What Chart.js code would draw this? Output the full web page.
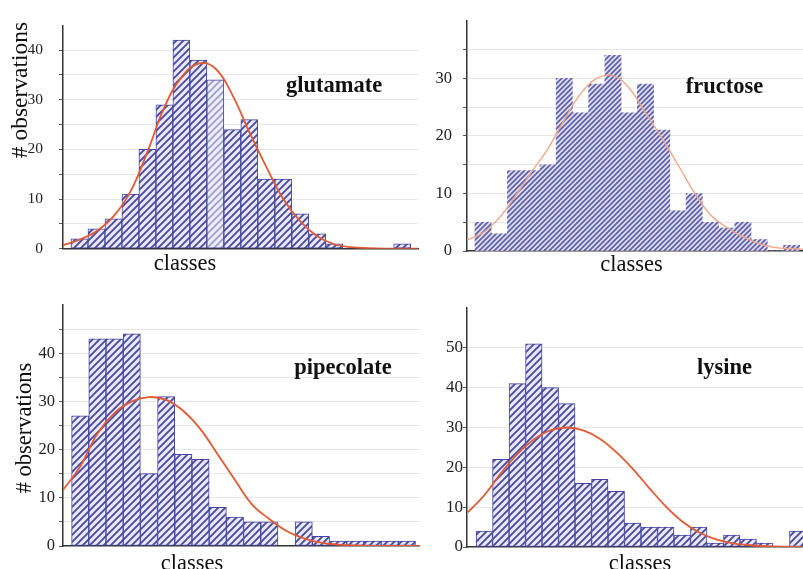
<!DOCTYPE html>
<html>
<head>
<meta charset="utf-8">
<script src="https://cdn.jsdelivr.net/npm/chart.js@4.4.1/dist/chart.umd.min.js"></script>
<style>
  html, body { margin: 0; padding: 0; background: #fff; }
  #wrap { position: relative; width: 803px; height: 569px; overflow: hidden; }
  .panel { position: absolute; }
</style>
</head>
<body>
<div id="wrap">
  <div class="panel" style="left:0;top:0;width:420px;height:274px"><canvas id="glu"></canvas></div>
  <div class="panel" style="left:425px;top:0;width:378px;height:274px"><canvas id="fru"></canvas></div>
  <div class="panel" style="left:0;top:285px;width:420px;height:284px"><canvas id="pip"></canvas></div>
  <div class="panel" style="left:425px;top:285px;width:378px;height:284px"><canvas id="lys"></canvas></div>
</div>
<script>
// Histograms of 4 metabolites, 20 classes each, with fitted normal curve

// class (bin) centres, bins span [i, i+1]
const classMid = [0.5, 1.5, 2.5, 3.5, 4.5, 5.5, 6.5, 7.5, 8.5, 9.5,
                  10.5, 11.5, 12.5, 13.5, 14.5, 15.5, 16.5, 17.5, 18.5, 19.5];
const fitX = [-0.5, 0.5, 1.5, 2.5, 3.5, 4.5, 5.5, 6.5, 7.5, 8.5, 9.5,
              10.5, 11.5, 12.5, 13.5, 14.5, 15.5, 16.5, 17.5, 18.5, 19.5, 20.5];

const gluCounts = [2, 4, 6, 11, 20, 29, 42, 38, 34, 24, 26, 14, 14, 7, 3, 1, 0, 0, 0, 1];
const fruCounts = [5, 3, 14, 14, 15, 30, 24, 29, 34, 24, 29, 21, 7, 10, 5, 4, 5, 2, 0, 1];
const pipCounts = [27, 43, 43, 44, 15, 31, 19, 18, 8, 6, 5, 5, 0, 5, 2, 1, 1, 1, 1, 1];
const lysCounts = [4, 22, 41, 51, 40, 36, 16, 17, 14, 6, 5, 5, 3, 5, 1, 3, 2, 1, 0, 4];

const gluFit = [0.7, 1.8, 3.5, 6.5, 11.5, 19.5, 28.5, 34.5, 37.3, 36.3, 31,
                23.5, 16.5, 10, 5.5, 2.5, 0.9, 0.3, 0.1, 0, 0, 0];
const fruFit = [1.9, 3.2, 5.8, 9.6, 13.8, 17.8, 22.8, 27.3, 30, 30.5, 28.3,
                24, 19.7, 15, 10.2, 6.3, 4.1, 2.5, 1.3, 0.6, 0.4, 0.3];
const pipFit = [11.6, 16.5, 23.3, 27.6, 30, 30.9, 30.3, 28, 24.2, 19, 13.7,
                8.6, 5.6, 3.1, 1.6, 0.7, 0.3, 0.1, 0, 0, 0, 0];
const lysFit = [8.7, 13, 18.5, 23.3, 27, 29.3, 30, 29.3, 27.2, 23.8, 19.6,
                14.8, 10.2, 6.4, 3.7, 2, 1, 0.5, 0.2, 0.1, 0, 0];

const xTitle = 'classes';
const yTitle = '# observations';
const serif = '"Liberation Serif", "Times New Roman", serif';

// diagonal hatch tile
function hatch(size, lw, stripe, bg) {
  const c = document.createElement('canvas');
  c.width = size; c.height = size;
  const g = c.getContext('2d');
  g.fillStyle = bg;
  g.fillRect(0, 0, size, size);
  g.strokeStyle = stripe;
  g.lineWidth = lw;
  g.beginPath();
  g.moveTo(0, size); g.lineTo(size, 0);
  g.moveTo(-size / 2, size / 2); g.lineTo(size / 2, -size / 2);
  g.moveTo(size / 2, size * 1.5); g.lineTo(size * 1.5, size / 2);
  g.stroke();
  return g.createPattern(c, 'repeat');
}

const panelText = {
  id: 'panelText',
  afterDraw(chart, args, o) {
    const ctx = chart.ctx;
    ctx.save();
    ctx.fillStyle = '#111';
    ctx.textAlign = 'center';
    ctx.textBaseline = 'alphabetic';
    ctx.font = 'bold 22.5px ' + serif;
    ctx.fillText(o.name, o.nameX, o.nameY);
    ctx.font = '22.5px ' + serif;
    ctx.fillText(xTitle, o.xtX, o.xtY);
    if (o.ytY) {
      // baseline on the right, text reads bottom to top
      ctx.translate(o.ytX, o.ytY);
      ctx.rotate(-Math.PI / 2);
      ctx.font = o.ytSize + 'px ' + serif;
      ctx.fillText(yTitle, 0, 0);
    }
    ctx.restore();
  }
};

function makeChart(id, p) {
  new Chart(document.getElementById(id), {
    type: 'bar',
    data: {
      datasets: [{
        type: 'line',
        data: p.fit.map((y, i) => ({ x: fitX[i], y: y })),
        borderColor: p.lineColor,
        borderWidth: p.lineWidth,
        pointRadius: 0,
        tension: 0.4,
        fill: false,
        order: 0
      }, {
        type: 'bar',
        data: p.counts.map((y, i) => ({ x: classMid[i], y: y })),
        backgroundColor: p.fill,
        borderColor: p.border,
        borderWidth: p.borderWidth,
        borderSkipped: false,
        barPercentage: 1,
        categoryPercentage: 1,
        order: 1
      }]
    },
    options: {
      responsive: true,
      maintainAspectRatio: false,
      animation: false,
      layout: { padding: { top: p.padTop, right: p.padRight, left: 0, bottom: 0 } },
      plugins: {
        legend: { display: false },
        tooltip: { enabled: false },
        panelText: p.text
      },
      scales: {
        x: {
          type: 'linear',
          min: p.xMin,
          max: p.xMax,
          offset: false,
          grid: { display: false },
          ticks: { display: false },
          border: { color: '#333', width: 1.5 },
          afterFit: s => { s.height = p.xh; }
        },
        y: {
          min: 0,
          max: p.yMax,
          ticks: {
            stepSize: p.step,
            padding: p.tickPad,
            color: '#222',
            font: { family: serif, size: p.tickSize },
            callback: v => (v % 10 === 0 && v < p.yMax) ? v : ''
          },
          grid: {
            color: c => c.tick && c.tick.value > 0 && c.tick.value < p.yMax ? '#e6e6e6' : 'rgba(0,0,0,0)',
            tickColor: c => c.tick && c.tick.value < p.yMax ? '#555' : 'rgba(0,0,0,0)',
            tickLength: 4
          },
          border: { color: '#333', width: 1.5 },
          afterFit: s => { s.width = p.yw; }
        }
      }
    },
    plugins: [panelText]
  });
}

const outline = '#4444a0';
const red = '#e25a34';
const gluFill = hatch(7, 1.9, '#4a4aa0', '#e8e8f6');
const gluLight = hatch(7, 1.9, '#a0a0d2', '#eeeef9');

makeChart('glu', {
  counts: gluCounts, fit: gluFit,
  fill: c => c.dataIndex === 8 ? gluLight : gluFill,
  border: outline, borderWidth: 1, lineColor: red, lineWidth: 1.8,
  xMin: -0.47, xMax: 20.43, yMax: 45, step: 5,
  yw: 63, xh: 22, padTop: 13, padRight: 2, tickPad: 16, tickSize: 15.5,
  text: { name: 'glutamate', nameX: 334, nameY: 92, xtX: 185, xtY: 270, ytX: 27, ytY: 90, ytSize: 23.5 }
});

makeChart('fru', {
  counts: fruCounts, fit: fruFit,
  fill: hatch(5, 1.7, '#6060a8', '#dedef0'),
  border: 'rgba(0,0,0,0)', borderWidth: 0, lineColor: '#f0a585', lineWidth: 1.3,
  xMin: -0.49, xMax: 20.2, yMax: 40, step: 5,
  yw: 42, xh: 23, padTop: 13, padRight: 0, tickPad: 11, tickSize: 16.5,
  text: { name: 'fructose', nameX: 299.5, nameY: 93, xtX: 206.5, xtY: 270.5 }
});

makeChart('pip', {
  counts: pipCounts, fit: pipFit,
  fill: gluFill,
  border: outline, borderWidth: 1, lineColor: red, lineWidth: 1.8,
  xMin: -0.5, xMax: 20.26, yMax: 50, step: 5,
  yw: 63, xh: 23, padTop: 20, padRight: 0, tickPad: 4, tickSize: 16.5,
  text: { name: 'pipecolate', nameX: 343, nameY: 89, xtX: 192, xtY: 285, ytX: 31, ytY: 143, ytSize: 22.5 }
});

makeChart('lys', {
  counts: lysCounts, fit: lysFit,
  fill: gluFill,
  border: outline, borderWidth: 1, lineColor: red, lineWidth: 1.8,
  xMin: -0.55, xMax: 19.82, yMax: 60, step: 10,
  yw: 42, xh: 22, padTop: 23, padRight: 0, tickPad: 0, tickSize: 17,
  text: { name: 'lysine', nameX: 299.5, nameY: 89, xtX: 215, xtY: 285 }
});
</script>
</body>
</html>
